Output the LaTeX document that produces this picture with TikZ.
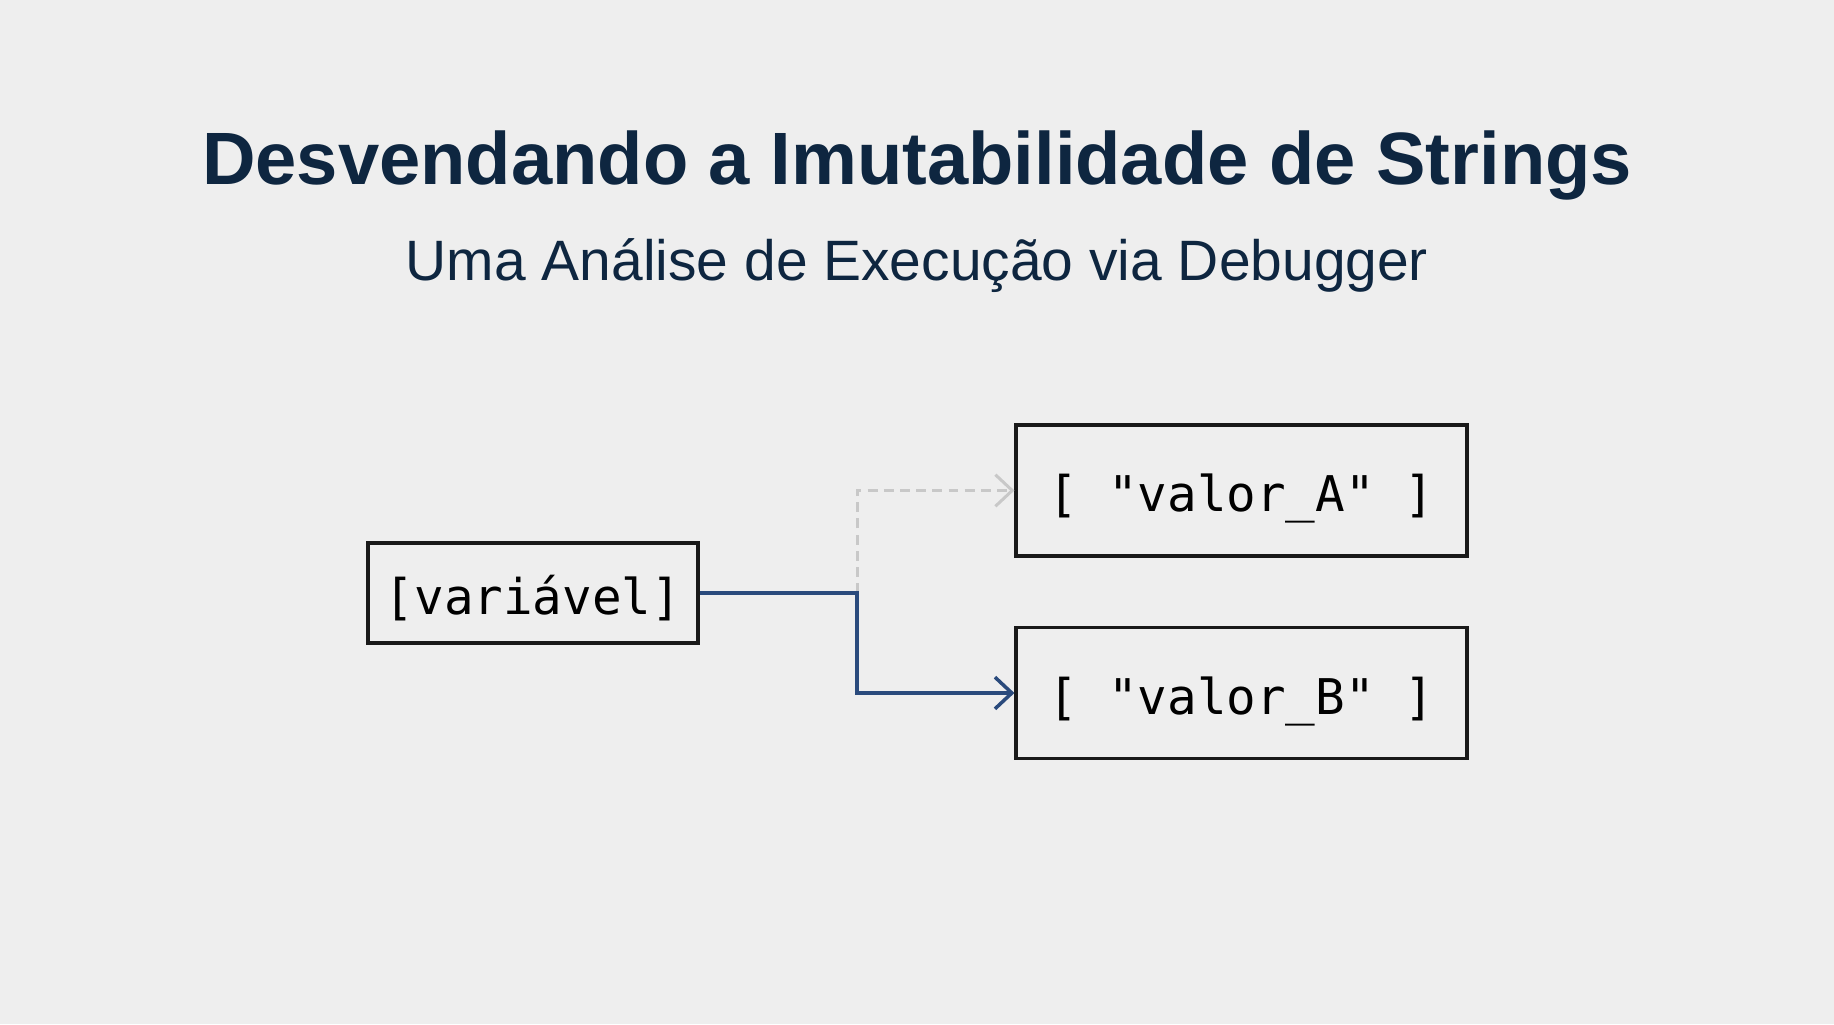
\documentclass[tikz,border=0pt]{standalone}
\usepackage{fontspec}
\setmainfont{Liberation Sans}
\newfontfamily\monofont{DejaVu Sans Mono}
\usetikzlibrary{arrows.meta}
\definecolor{fundo}{HTML}{EEEEEE}
\definecolor{titulo}{HTML}{0E2640}
\definecolor{azul}{HTML}{2A4A7C}
\definecolor{cinza}{HTML}{C8C8C8}
\begin{document}
\begin{tikzpicture}[
  caixa/.style={draw=black!90, line width=0.9pt, fill=fundo, inner sep=0pt,
    text height=12pt, text depth=0pt, font=\monofont\fontsize{14}{16}\selectfont},
  liga/.style={draw=azul, line width=1pt, -{Straight Barb[length=4.8pt,width=9pt]}},
  antiga/.style={draw=cinza, line width=0.85pt, dash pattern=on 2.8pt off 1.8pt,
    -{Straight Barb[length=4.8pt,width=9pt]}}]
\fill[fundo] (0,0) rectangle (18.34,10.24);
\useasboundingbox (0,0) rectangle (18.34,10.24);
% titulo
\node[anchor=base, text=titulo, font=\bfseries\fontsize{21.1}{25}\selectfont] (titulo) at (9.17,8.39)
  {Desvendando a Imutabilidade de Strings};
\node[anchor=base, text=titulo, font=\fontsize{16.2}{19}\selectfont] (subtitulo) at (9.17,7.44)
  {Uma Análise de Execução via Debugger};
% caixas
\node[caixa, minimum width=3.3cm, minimum height=1cm] (var) at (5.33,4.31) {[variável]};
\node[caixa, minimum width=4.51cm, minimum height=1.31cm] (valA) at (12.415,5.335) {[ "valor\_A" ]};
\node[caixa, minimum width=4.51cm, minimum height=1.31cm] (valB) at (12.415,3.31) {[ "valor\_B" ]};
% ligacoes
\coordinate (desvio) at (8.57,4.31);
\draw[antiga] (desvio) |- (valA.west);
\draw[liga] (var.east) -- (desvio) |- (valB.west);
\end{tikzpicture}
\end{document}
